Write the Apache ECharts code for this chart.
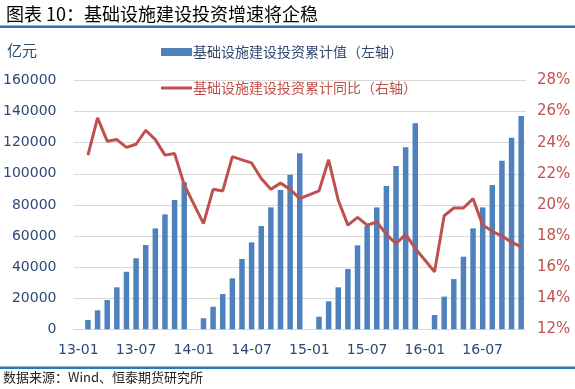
<!DOCTYPE html>
<html>
<head>
<meta charset="utf-8">
<script src="https://cdn.jsdelivr.net/npm/echarts@6/dist/echarts.min.js"></script>
<style>
html,body{margin:0;padding:0;background:#fff;}
#c{width:575px;height:389px;}
</style>
</head>
<body>
<div id="c"></div>
<script>
var categories = [
  "13-01","13-02","13-03","13-04","13-05","13-06","13-07","13-08","13-09","13-10","13-11","13-12",
  "14-01","14-02","14-03","14-04","14-05","14-06","14-07","14-08","14-09","14-10","14-11","14-12",
  "15-01","15-02","15-03","15-04","15-05","15-06","15-07","15-08","15-09","15-10","15-11","15-12",
  "16-01","16-02","16-03","16-04","16-05","16-06","16-07","16-08","16-09","16-10","16-11"
];
var cumValue = [
  null, 6000, 12200, 18800, 27000, 37000, 45700, 54200, 64900, 73900, 83100, 94500,
  null, 7100, 14500, 22700, 32800, 45200, 55900, 66400, 78400, 89600, 99400, 113200,
  null, 8100, 18000, 27000, 38800, 54000, 66400, 78400, 92100, 105000, 117000, 132500,
  null, 9200, 21000, 32300, 46700, 64900, 78400, 92800, 108400, 123200, 137200
];
var cumYoY = [
  null, 23.2, 25.6, 24.1, 24.2, 23.7, 23.9, 24.8, 24.2, 23.2, 23.3, 21.3,
  null, 18.8, 21.0, 20.9, 23.1, 22.9, 22.7, 21.7, 21.0, 21.4, 21.0, 20.4,
  null, 20.9, 22.9, 20.3, 18.7, 19.2, 18.7, 18.9, 18.1, 17.5, 18.1, 17.2,
  null, 15.7, 19.3, 19.8, 19.8, 20.4, 18.7, 18.3, 18.0, 17.6, 17.3
];
var leftTicks = {min: 0, max: 160000, interval: 20000};
var rightTicks = {min: 12, max: 28, interval: 2};
var seriesNames = ["基础设施建设投资累计值（左轴）", "基础设施建设投资累计同比（右轴）"];

var chart = echarts.init(document.getElementById('c'), null, {renderer: 'canvas'});
var cjk = '"Noto Sans CJK SC", "Noto Sans", sans-serif';
var num = '"DejaVu Sans", Verdana, sans-serif';
chart.setOption({
  animation: false,
  backgroundColor: '#ffffff',
  title: {
    text: '图表 10：基础设施建设投资增速将企稳',
    left: 1, top: 0,
    textStyle: {fontFamily: cjk, fontSize: 18, fontWeight: 'normal', color: '#000'}
  },
  graphic: [
    {type: 'rect', shape: {x: 0, y: 25.5, width: 575, height: 2.5}, style: {fill: '#2F75B5'}},
    {type: 'rect', shape: {x: 0, y: 366.5, width: 575, height: 2.5}, style: {fill: '#2F75B5'}},
    {type: 'text', left: 3, top: 371, style: {text: '数据来源：Wind、恒泰期货研究所', font: '13px "Noto Sans CJK SC", serif', fill: '#222'}},
    {type: 'text', left: 7, top: 43, style: {text: '亿元', font: '15px "Noto Sans CJK SC", sans-serif', fill: '#2B4A78'}}
  ],
  legend: [
    {
      left: 161, top: 45, padding: 0,
      itemWidth: 31, itemHeight: 8,
      data: [{name: seriesNames[0], icon: 'rect'}],
      textStyle: {fontFamily: cjk, fontSize: 14, color: '#33486E', padding: [0,0,0,-4]}
    },
    {
      left: 161, top: 81, padding: 0,
      itemWidth: 31, itemHeight: 3,
      data: [{name: seriesNames[1], icon: 'rect'}],
      textStyle: {fontFamily: cjk, fontSize: 14, color: '#C0504D', padding: [0,0,0,-4]}
    }
  ],
  grid: {left: 73.5, right: 49, top: 80.5, bottom: 59.7},
  xAxis: {
    type: 'category',
    data: categories,
    boundaryGap: true,
    axisLine: {lineStyle: {color: '#D9D9D9', width: 1}},
    axisTick: {interval: 5, length: 5, lineStyle: {color: '#D9D9D9'}},
    axisLabel: {interval: 5, margin: 14, color: '#2B4A78', fontFamily: num, fontSize: 14}
  },
  yAxis: [
    {
      type: 'value', min: leftTicks.min, max: leftTicks.max, interval: leftTicks.interval,
      axisLine: {show: false}, axisTick: {show: false},
      splitLine: {lineStyle: {color: '#D9D9D9'}},
      axisLabel: {margin: 17, color: '#2B4A78', fontFamily: num, fontSize: 14,
        formatter: function (v) { return String(v); }}
    },
    {
      type: 'value', min: rightTicks.min, max: rightTicks.max, interval: rightTicks.interval,
      axisLine: {show: false}, axisTick: {show: false},
      splitLine: {show: false},
      axisLabel: {margin: 11, color: '#C0504D', fontFamily: num, fontSize: 15, formatter: '{value}%'}
    }
  ],
  series: [
    {
      name: seriesNames[0], type: 'bar', yAxisIndex: 0,
      data: cumValue, barWidth: 5.5,
      itemStyle: {color: '#4F81BD'}
    },
    {
      name: seriesNames[1], type: 'line', yAxisIndex: 1,
      data: cumYoY, connectNulls: true, symbol: 'none',
      lineStyle: {color: '#C0504D', width: 3},
      itemStyle: {color: '#C0504D'}
    }
  ]
});
</script>
</body>
</html>
